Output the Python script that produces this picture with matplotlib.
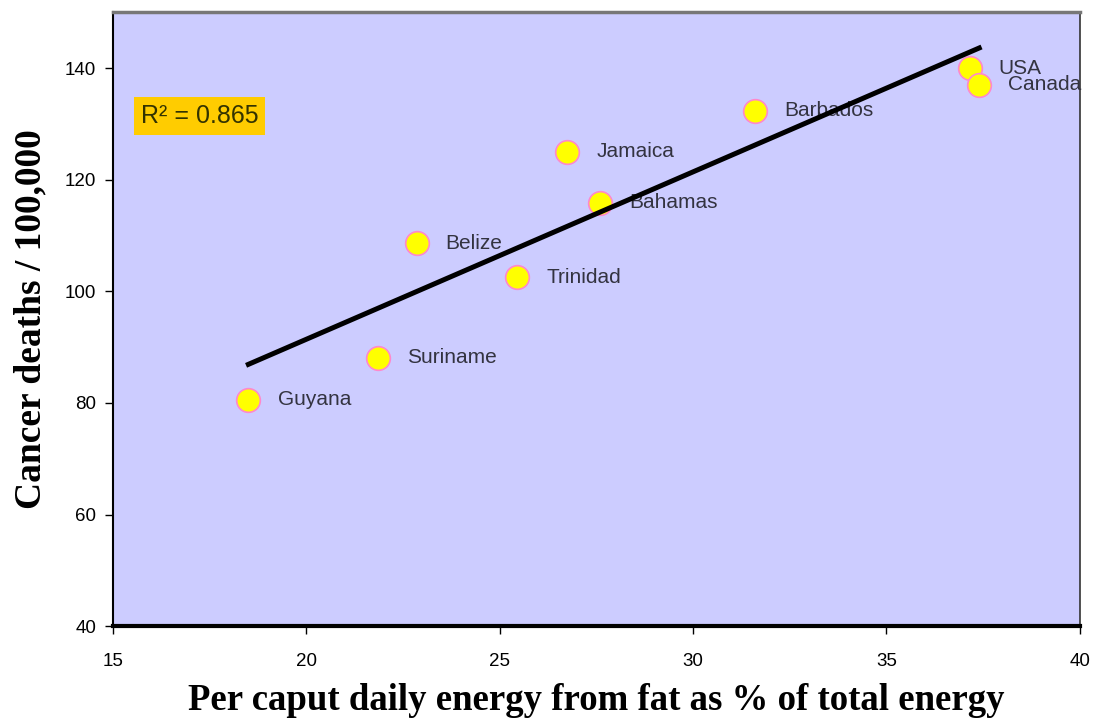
import numpy as np
import matplotlib.pyplot as plt

countries = ["Guyana", "Suriname", "Belize", "Trinidad", "Jamaica",
             "Bahamas", "Barbados", "USA", "Canada"]
fat_pct = [18.5, 21.85, 22.85, 25.45, 26.75, 27.6, 31.6, 37.15, 37.4]
cancer_deaths = [80.6, 88.1, 108.6, 102.5, 125.0, 115.9, 132.4, 140.0, 137.0]

fig = plt.figure(figsize=(10.94, 7.23), dpi=100)
ax = fig.add_axes([0.1033, 0.134, 0.8837, 0.849])
ax.set_facecolor("#ccccff")

ax.scatter(fat_pct, cancer_deaths, s=290, color="#ffff00",
           edgecolor="#ff88cc", linewidth=1.2, zorder=2)

for name, x, y in zip(countries, fat_pct, cancer_deaths):
    ax.annotate(name, (x, y), xytext=(21, 0), textcoords="offset points",
                va="center", ha="left", fontsize=15, color="#333340",
                family="Liberation Sans", zorder=3)

# linear trend line over the data range
slope, intercept = np.polyfit(fat_pct, cancer_deaths, 1)
xs = np.array([min(fat_pct), max(fat_pct)])
ax.plot(xs, slope * xs + intercept, color="black", lw=3.6, zorder=4)

ax.text(15.72, 131.4, "R² = 0.865", fontsize=18, color="#333300",
        family="Liberation Sans", va="center", ha="left",
        bbox=dict(boxstyle="square,pad=0.28", facecolor="#ffcc00",
                  edgecolor="none"))

ax.set_xlim(15, 40)
ax.set_ylim(40, 150)
ax.set_xticks([15, 20, 25, 30, 35, 40])
ax.set_yticks([40, 60, 80, 100, 120, 140])
ax.tick_params(labelsize=13.5, length=6, width=1, direction="out")
ax.tick_params(axis="x", pad=13)
ax.tick_params(axis="y", pad=6)
for lab in ax.get_xticklabels() + ax.get_yticklabels():
    lab.set_family("Liberation Sans")

ax.spines["bottom"].set_linewidth(3)
ax.spines["top"].set_color("#777777")
ax.spines["top"].set_linewidth(2.5)
ax.spines["left"].set_linewidth(1.5)
ax.spines["right"].set_color("#333333")
ax.spines["right"].set_linewidth(1.2)

ax.set_xlabel("Per caput daily energy from fat as % of total energy",
              family="Liberation Serif", fontweight="bold", fontsize=26.5,
              labelpad=10)
ax.set_ylabel("Cancer deaths / 100,000", family="Liberation Serif",
              fontweight="bold", fontsize=27, labelpad=12)

fig.savefig("out.png", dpi=100)
